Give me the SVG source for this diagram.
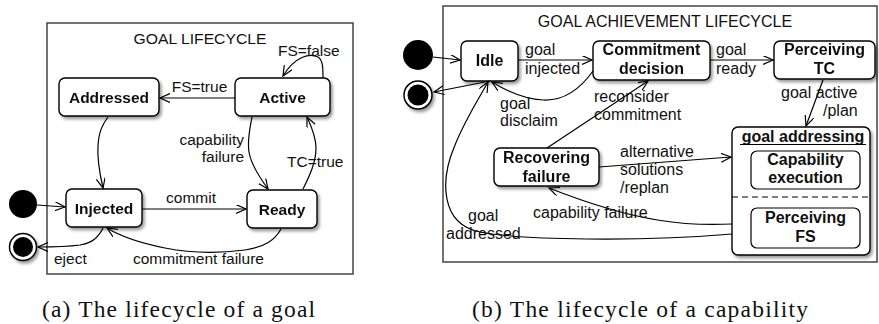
<svg xmlns="http://www.w3.org/2000/svg" width="879" height="324" viewBox="0 0 879 324">
<style>
.frame{fill:#fff;stroke:#444;stroke-width:1.5}
.node{fill:#fff;stroke:#000;stroke-width:1.4}
.inner{fill:#fff;stroke:#000;stroke-width:1.2}
.lbl{font-family:"Liberation Sans",Arial,sans-serif;font-size:15.5px;fill:#111}
.lbr{font-family:"Liberation Sans",Arial,sans-serif;font-size:16px;fill:#111}
.b{font-weight:bold;text-anchor:middle}
.m{text-anchor:middle}
.e{text-anchor:end}
.edge{fill:none;stroke:#000;stroke-width:1.2;marker-end:url(#arr)}
.cap{font-family:"Liberation Serif","Times New Roman",serif;font-size:23.5px;fill:#111}
</style>
<defs>
<marker id="arr" markerUnits="userSpaceOnUse" markerWidth="12" markerHeight="10" refX="10" refY="4.5" orient="auto">
<path d="M0,0 L10,4.5 L0,9" fill="none" stroke="#000" stroke-width="1.2"/>
</marker>
<filter id="sh" x="-20%" y="-20%" width="150%" height="150%">
<feDropShadow dx="2" dy="2.5" stdDeviation="1.6" flood-color="#000" flood-opacity="0.4"/>
</filter>
</defs>

<!-- Left panel -->
<rect class="frame" x="47" y="23" width="306" height="251"/>
<text class="lbl m" x="200" y="44" textLength="133" lengthAdjust="spacingAndGlyphs">GOAL LIFECYCLE</text>

<g id="a_init"><circle cx="23" cy="204" r="14" fill="#000"/></g>
<g id="a_final" filter="url(#sh)"><circle cx="23" cy="247" r="13.5" fill="#fff" stroke="#000" stroke-width="1.5"/><circle cx="23" cy="247" r="10" fill="#000"/></g>
<g id="a_addressed" filter="url(#sh)"><rect class="node" x="59" y="78" width="100" height="38" rx="6"/><text class="lbl b" x="109" y="103">Addressed</text></g>
<g id="a_active" filter="url(#sh)"><rect class="node" x="235" y="78" width="95" height="38" rx="6"/><text class="lbl b" x="282.5" y="103">Active</text></g>
<g id="a_injected" filter="url(#sh)"><rect class="node" x="66" y="189" width="76" height="38" rx="6"/><text class="lbl b" x="104" y="214">Injected</text></g>
<g id="a_ready" filter="url(#sh)"><rect class="node" x="247" y="190" width="70" height="38" rx="6"/><text class="lbl b" x="282" y="215">Ready</text></g>

<g id="a_edges">
<path class="edge" d="M37,205 L65,207"/>
<path class="edge" d="M142,209 L246,209"/>
<path class="edge" d="M235,98 L160,98"/>
<path class="edge" d="M323,78 C323,68 323,60 318,57 C310,53 295,56 283,76"/>
<path class="edge" d="M108,117 C102,125 99,132 98,145 C97,160 100,175 103,188"/>
<path class="edge" d="M252,117 C250,128 247,140 249,152 C251,165 260,178 268,189"/>
<path class="edge" d="M303,189 C310,175 316,162 316,148 C316,136 311,126 307,117"/>
<path class="edge" d="M281,229 C275,240 265,247 245,250 C215,254 185,252 165,248 C140,243 120,236 107,228"/>
<path class="edge" d="M103,228 C98,238 92,243 80,245 C65,247 52,247 38,247"/>
</g>
<text class="lbl" x="278" y="55.5">FS=false</text>
<text class="lbl m" x="199.5" y="91.5">FS=true</text>
<text class="lbl e" x="244" y="145">capability</text>
<text class="lbl e" x="244" y="162">failure</text>
<text class="lbl" x="287" y="167">TC=true</text>
<text class="lbl m" x="191" y="203">commit</text>
<text class="lbl" x="133" y="264">commitment failure</text>
<text class="lbl" x="54" y="264">eject</text>

<!-- Right panel -->
<rect class="frame" x="443" y="6" width="434" height="256"/>
<text class="lbr m" x="665" y="27">GOAL ACHIEVEMENT LIFECYCLE</text>

<g id="b_init"><circle cx="418" cy="55" r="15" fill="#000"/></g>
<g id="b_final" filter="url(#sh)"><circle cx="418" cy="95" r="14" fill="#fff" stroke="#000" stroke-width="1.5"/><circle cx="418" cy="95" r="10.5" fill="#000"/></g>
<g id="b_idle" filter="url(#sh)"><rect class="node" x="461" y="41" width="57" height="40" rx="6"/><text class="lbr b" x="489.5" y="66">Idle</text></g>
<g id="b_commit" filter="url(#sh)"><rect class="node" x="593" y="41" width="117" height="39" rx="6"/><text class="lbr b" x="651.5" y="55">Commitment</text><text class="lbr b" x="651.5" y="74">decision</text></g>
<g id="b_ptc" filter="url(#sh)"><rect class="node" x="774" y="41" width="101" height="38" rx="6"/><text class="lbr b" x="824.5" y="55">Perceiving</text><text class="lbr b" x="824.5" y="74">TC</text></g>
<g id="b_recover" filter="url(#sh)"><rect class="node" x="494" y="148" width="105" height="38" rx="6"/><text class="lbr b" x="546.5" y="163">Recovering</text><text class="lbr b" x="546.5" y="182">failure</text></g>
<g id="b_addressing">
<rect class="node" x="732" y="127" width="138" height="128" rx="6" filter="url(#sh)"/>
<text class="lbr b" x="803" y="142">goal addressing</text>
<line x1="740" y1="144.5" x2="866" y2="144.5" stroke="#000" stroke-width="1.2"/>
<line x1="732" y1="197" x2="870" y2="197" stroke="#000" stroke-width="1.2" stroke-dasharray="6,4"/>
<g id="b_capexec"><rect class="inner" x="751" y="151" width="109" height="38" rx="6"/><text class="lbr b" x="805.5" y="165">Capability</text><text class="lbr b" x="805.5" y="183">execution</text></g>
<g id="b_pfs"><rect class="inner" x="751" y="208" width="109" height="40" rx="6"/><text class="lbr b" x="805.5" y="223">Perceiving</text><text class="lbr b" x="805.5" y="242">FS</text></g>
</g>

<g id="b_edges">
<path class="edge" d="M433,57 L460,60"/>
<path class="edge" d="M490,81 L434,92"/>
<path class="edge" d="M518,60 L592,60"/>
<path class="edge" d="M593,71 C578,92 562,101 543,100 C522,99 505,90 492,82"/>
<path class="edge" d="M710,60 L773,60"/>
<path class="edge" d="M823,80 L806,126"/>
<path class="edge" d="M547,148 L648,81"/>
<path class="edge" d="M599,167 L731,157"/>
<path class="edge" d="M732,224 C690,226 640,224 549,188"/>
<path class="edge" d="M732,234 C640,242 520,240 480,232 C440,224 440,180 455,145 C465,120 478,100 488,82"/>
</g>
<text class="lbr" x="525" y="55">goal</text>
<text class="lbr" x="525" y="74">injected</text>
<text class="lbr" x="716" y="55">goal</text>
<text class="lbr" x="716" y="74">ready</text>
<text class="lbr" x="500" y="109">goal</text>
<text class="lbr" x="500" y="126">disclaim</text>
<text class="lbr" x="594" y="102">reconsider</text>
<text class="lbr" x="594" y="120">commitment</text>
<text class="lbr" x="781" y="98">goal active</text>
<text class="lbr" x="823" y="116">/plan</text>
<text class="lbr" x="620" y="157">alternative</text>
<text class="lbr" x="620" y="175">solutions</text>
<text class="lbr" x="620" y="193">/replan</text>
<text class="lbr" x="533" y="218">capability failure</text>
<text class="lbr" x="468" y="221">goal</text>
<text class="lbr" x="446" y="239">addressed</text>

<!-- Captions -->
<text class="cap" x="42" y="317" textLength="273" lengthAdjust="spacing">(a) The lifecycle of a goal</text>
<text class="cap" x="472" y="317" textLength="336" lengthAdjust="spacing">(b) The lifecycle of a capability</text>
</svg>
